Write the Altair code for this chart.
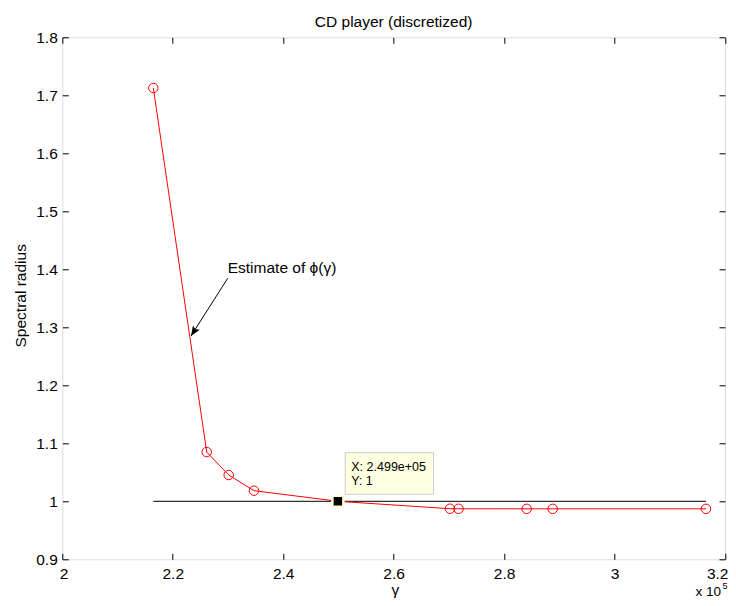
import altair as alt
import pandas as pd

# ---- data ----
gamma = [216480, 226150, 230130, 234710, 249900, 270200, 271750, 284090, 288800, 316560]
radius = [1.7126, 1.0850, 1.0453, 1.0183, 1.0000, 0.9872, 0.9871, 0.9870, 0.9870, 0.9870]
has_marker = [True, True, True, True, False, True, True, True, True, True]

ref_gamma = [216480, 316560]
ref_radius = [1.0, 1.0]

tip_gamma = [249900]
tip_radius = [1.0]

arrow_tail_gamma = [229950]
arrow_tail_radius = [1.3845]
arrow_head_gamma = [223300]
arrow_head_radius = [1.285]
annotation_text = ["Estimate of \u03d5(\u03b3)"]

title_text = "CD player (discretized)"

x_ticks = [200000, 220000, 240000, 260000, 280000, 300000, 320000]
y_ticks = [0.9, 1.0, 1.1, 1.2, 1.3, 1.4, 1.5, 1.6, 1.7, 1.8]

FONT = "Liberation Sans"
FS = 15.5

df = pd.DataFrame({"gamma": gamma, "radius": radius, "marker": has_marker})
df_mark = df[df["marker"]].reset_index(drop=True)
df_ref = pd.DataFrame({"gamma": ref_gamma, "radius": ref_radius})
df_tip = pd.DataFrame({
    "gamma": tip_gamma,
    "radius": tip_radius,
    "label": [f"X: {tip_gamma[0]:.3e}\nY: {tip_radius[0]:g}"],
})
df_arrow = pd.DataFrame({
    "x0": arrow_tail_gamma, "y0": arrow_tail_radius,
    "x1": arrow_head_gamma, "y1": arrow_head_radius,
    "label": annotation_text,
})
df_exp = pd.DataFrame({"gamma": [x_ticks[-1]], "radius": [y_ticks[0]]})
df_title = pd.DataFrame({"gamma": [(x_ticks[0] + x_ticks[-1]) / 2], "radius": [y_ticks[-1]],
                         "label": [title_text]})

xs = alt.Scale(domain=[x_ticks[0], x_ticks[-1]], nice=False, zero=False)
ys = alt.Scale(domain=[y_ticks[0], y_ticks[-1]], nice=False, zero=False)

x_main = alt.Axis(orient="bottom", values=x_ticks,
                  labelExpr="format(datum.value / 100000, '.1~f')",
                  ticks=False, tickSize=0, domain=False, grid=False,
                  labelPadding=7.5, labelFontSize=FS, labelFont=FONT, labelColor="black",
                  labelFlush=True, labelFlushOffset=3, labelOverlap=False,
                  title="\u03b3", titleFont=FONT, titleFontSize=FS, titleFontWeight="normal",
                  titleColor="black", titleBaseline="alphabetic", titleX=332.5, titleY=35.3)
y_main = alt.Axis(orient="left", values=y_ticks, format="~g",
                  ticks=False, tickSize=0, domain=False, grid=False,
                  labelPadding=5, labelFontSize=FS, labelFont=FONT, labelColor="black",
                  labelFlush=False, labelOverlap=False,
                  title="Spectral radius", titleFont=FONT, titleFontSize=FS,
                  titleFontWeight="normal", titleColor="black", titleBaseline="alphabetic",
                  titleAngle=270, titleX=-37, titleY=258)


def tick_axis(orient, values):
    return alt.Axis(orient=orient, values=values, labels=False, domain=False, grid=False,
                    ticks=True, tickSize=6, offset=-6, tickColor="black", tickWidth=1,
                    title=None)


ref_line = alt.Chart(df_ref).mark_line(color="black", strokeWidth=1).encode(
    x=alt.X("gamma:Q", scale=xs, axis=x_main),
    y=alt.Y("radius:Q", scale=ys, axis=y_main),
)

red_line = alt.Chart(df).mark_line(color="#ff0000", strokeWidth=1).encode(
    x=alt.X("gamma:Q", scale=xs, axis=tick_axis("bottom", x_ticks)),
    y=alt.Y("radius:Q", scale=ys, axis=tick_axis("left", y_ticks)),
    order="gamma:Q",
)

circles = alt.Chart(df_mark).mark_point(shape="circle", size=90, filled=False,
                                        color="#ff0000", strokeWidth=1, opacity=1).encode(
    x=alt.X("gamma:Q", scale=xs, axis=tick_axis("top", x_ticks)),
    y=alt.Y("radius:Q", scale=ys, axis=tick_axis("right", y_ticks)),
)

tip_box = alt.Chart(df_tip).mark_rect(fill="#ffffe1", stroke="#cccccc", strokeWidth=1,
                                      xOffset=7.4, x2Offset=95.7,
                                      yOffset=-48.6, y2Offset=-7).encode(
    x=alt.X("gamma:Q", scale=xs, axis=None),
    x2="gamma",
    y=alt.Y("radius:Q", scale=ys, axis=None),
    y2="radius",
)

tip_text = alt.Chart(df_tip).mark_text(align="left", baseline="alphabetic", dx=13.4, dy=-30.6,
                                       font=FONT, fontSize=12.5, color="black",
                                       lineBreak="\n", lineHeight=14.6).encode(
    x=alt.X("gamma:Q", scale=xs, axis=None),
    y=alt.Y("radius:Q", scale=ys, axis=None),
    text="label:N",
)

tip_square = alt.Chart(df_tip).mark_point(shape="square", size=121, filled=True,
                                          fill="black", stroke="#ffffe1", strokeWidth=2.5,
                                          opacity=1).encode(
    x=alt.X("gamma:Q", scale=xs, axis=None),
    y=alt.Y("radius:Q", scale=ys, axis=None),
)

arrow_line = alt.Chart(df_arrow).mark_rule(color="black", strokeWidth=1).encode(
    x=alt.X("x0:Q", scale=xs, axis=None),
    y=alt.Y("y0:Q", scale=ys, axis=None),
    x2="x1",
    y2="y1",
)

arrow_head = alt.Chart(df_arrow).mark_point(shape="M0,0 L-0.4,1 L0,0.8 L0.4,1 Z",
                                            size=400, filled=True, fill="black",
                                            strokeWidth=0, opacity=1, angle=212.5).encode(
    x=alt.X("x1:Q", scale=xs, axis=None),
    y=alt.Y("y1:Q", scale=ys, axis=None),
)

annot = alt.Chart(df_arrow).mark_text(align="left", baseline="alphabetic", dy=-5,
                                      font=FONT, fontSize=FS, color="black").encode(
    x=alt.X("x0:Q", scale=xs, axis=None),
    y=alt.Y("y0:Q", scale=ys, axis=None),
    text="label:N",
)

title_mark = alt.Chart(df_title).mark_text(align="center", baseline="alphabetic", dy=-10.6,
                                           font=FONT, fontSize=FS, color="black").encode(
    x=alt.X("gamma:Q", scale=xs, axis=None),
    y=alt.Y("radius:Q", scale=ys, axis=None),
    text="label:N",
)

exp_base = alt.Chart(df_exp).mark_text(align="right", baseline="alphabetic", dx=-4, dy=36.3,
                                       font=FONT, fontSize=13.5, color="black",
                                       text="x 10").encode(
    x=alt.X("gamma:Q", scale=xs, axis=None),
    y=alt.Y("radius:Q", scale=ys, axis=None),
)
exp_sup = alt.Chart(df_exp).mark_text(align="left", baseline="alphabetic", dx=-2.5, dy=30,
                                      font=FONT, fontSize=9, color="black",
                                      text="5").encode(
    x=alt.X("gamma:Q", scale=xs, axis=None),
    y=alt.Y("radius:Q", scale=ys, axis=None),
)

chart = alt.layer(
    ref_line, red_line, circles, tip_square, tip_box, tip_text,
    arrow_line, arrow_head, annot, title_mark, exp_base, exp_sup,
).properties(
    width=662.7,
    height=522,
    padding={"left": 54.3, "top": 29.3, "right": 3, "bottom": 38.7},
    autosize=alt.AutoSizeParams(type="none"),
).resolve_axis(
    x="independent", y="independent"
).configure_view(
    stroke="black", strokeWidth=1
).configure(
    background="white"
)

chart.save("out.html", embed_options={"renderer": "svg", "actions": False})
